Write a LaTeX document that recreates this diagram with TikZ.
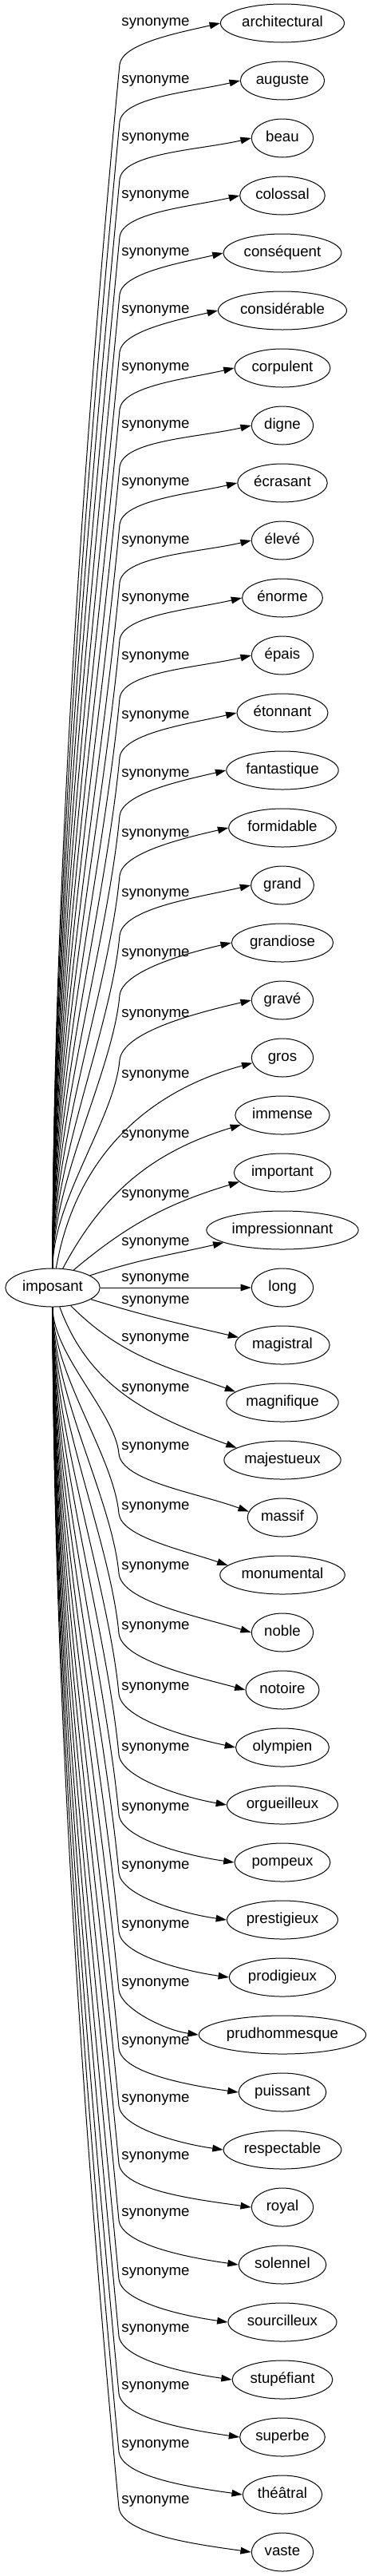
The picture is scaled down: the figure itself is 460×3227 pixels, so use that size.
\documentclass[tikz,border=0pt]{standalone}
\usepackage{fontspec}
\setmainfont{Liberation Sans}
\usetikzlibrary{arrows.meta, shapes.geometric}

\begin{document}
\begin{tikzpicture}[x=0.75pt, y=0.75pt, line width=0.75pt,
  font=\fontsize{14pt}{17pt}\selectfont,
  wordnode/.style={draw, ellipse, inner xsep=3pt, inner ysep=2pt, text height=10pt, text depth=3pt, minimum width=58pt, minimum height=36pt},
  synlabel/.style={inner sep=0pt},
  synedge/.style={-{Triangle[length=10pt, width=6.5pt]}}]
  \useasboundingbox (0,0) rectangle (460,-3227);

  % Centre word
  \node[wordnode] (imposant) at (66,-1613) {imposant};

  % --- Synonyms above ---
  \node[wordnode] (architectural) at (354,-29) {architectural};
  \node[synlabel] (s-architectural) at (195,-29) {synonyme};
  \draw[synedge] (imposant.north) .. controls (66,-1099) and (109.8,-500) .. ([shift={(-2,-52)}]s-architectural.west) to[out=84, in=193, out looseness=0.5] (architectural.west);

  \node[wordnode] (auguste) at (354,-101) {auguste};
  \node[synlabel] (s-auguste) at (195,-101) {synonyme};
  \draw[synedge] (imposant.north) .. controls (66,-1122) and (111.7,-552) .. ([shift={(-2,-52)}]s-auguste.west) to[out=84, in=193, out looseness=0.5] (auguste.west);

  \node[wordnode] (beau) at (354,-173) {beau};
  \node[synlabel] (s-beau) at (195,-173) {synonyme};
  \draw[synedge] (imposant.north) .. controls (66,-1146) and (113.7,-604) .. ([shift={(-2,-52)}]s-beau.west) to[out=84, in=193, out looseness=0.5] (beau.west);

  \node[wordnode] (colossal) at (354,-245) {colossal};
  \node[synlabel] (s-colossal) at (195,-245) {synonyme};
  \draw[synedge] (imposant.north) .. controls (66,-1169) and (115.6,-656) .. ([shift={(-2,-52)}]s-colossal.west) to[out=84, in=193, out looseness=0.5] (colossal.west);

  \node[wordnode] (consequent) at (354,-317) {conséquent};
  \node[synlabel] (s-consequent) at (195,-317) {synonyme};
  \draw[synedge] (imposant.north) .. controls (66,-1192) and (117.6,-708) .. ([shift={(-2,-52)}]s-consequent.west) to[out=84, in=193, out looseness=0.5] (consequent.west);

  \node[wordnode] (considerable) at (354,-389) {considérable};
  \node[synlabel] (s-considerable) at (195,-389) {synonyme};
  \draw[synedge] (imposant.north) .. controls (66,-1216) and (119.5,-760) .. ([shift={(-2,-52)}]s-considerable.west) to[out=84, in=193, out looseness=0.5] (considerable.west);

  \node[wordnode] (corpulent) at (354,-461) {corpulent};
  \node[synlabel] (s-corpulent) at (195,-461) {synonyme};
  \draw[synedge] (imposant.north) .. controls (66,-1239) and (121.4,-812) .. ([shift={(-2,-52)}]s-corpulent.west) to[out=84, in=193, out looseness=0.5] (corpulent.west);

  \node[wordnode] (digne) at (354,-533) {digne};
  \node[synlabel] (s-digne) at (195,-533) {synonyme};
  \draw[synedge] (imposant.north) .. controls (66,-1263) and (123.4,-864) .. ([shift={(-2,-52)}]s-digne.west) to[out=84, in=193, out looseness=0.5] (digne.west);

  \node[wordnode] (ecrasant) at (354,-605) {écrasant};
  \node[synlabel] (s-ecrasant) at (195,-605) {synonyme};
  \draw[synedge] (imposant.north) .. controls (66,-1286) and (125.3,-916) .. ([shift={(-2,-52)}]s-ecrasant.west) to[out=84, in=193, out looseness=0.5] (ecrasant.west);

  \node[wordnode] (eleve) at (354,-677) {élevé};
  \node[synlabel] (s-eleve) at (195,-678) {synonyme};
  \draw[synedge] (imposant.north) .. controls (66,-1310) and (127.3,-969) .. ([shift={(-2,-52)}]s-eleve.west) to[out=84, in=193, out looseness=0.5] (eleve.west);

  \node[wordnode] (enorme) at (354,-749) {énorme};
  \node[synlabel] (s-enorme) at (195,-750) {synonyme};
  \draw[synedge] (imposant.north) .. controls (66,-1333) and (129.2,-1021) .. ([shift={(-2,-52)}]s-enorme.west) to[out=84, in=193, out looseness=0.5] (enorme.west);

  \node[wordnode] (epais) at (354,-821) {épais};
  \node[synlabel] (s-epais) at (195,-823) {synonyme};
  \draw[synedge] (imposant.north) .. controls (66,-1357) and (131.2,-1074) .. ([shift={(-2,-52)}]s-epais.west) to[out=84, in=193, out looseness=0.5] (epais.west);

  \node[wordnode] (etonnant) at (354,-893) {étonnant};
  \node[synlabel] (s-etonnant) at (195,-897) {synonyme};
  \draw[synedge] (imposant.north) .. controls (66,-1381) and (133.2,-1127) .. ([shift={(-2,-52)}]s-etonnant.west) to[out=84, in=193, out looseness=0.5] (etonnant.west);

  \node[wordnode] (fantastique) at (354,-965) {fantastique};
  \node[synlabel] (s-fantastique) at (195,-970) {synonyme};
  \draw[synedge] (imposant.north) .. controls (66,-1405) and (135.2,-1180) .. ([shift={(-2,-52)}]s-fantastique.west) to[out=84, in=193, out looseness=0.5] (fantastique.west);

  \node[wordnode] (formidable) at (354,-1037) {formidable};
  \node[synlabel] (s-formidable) at (195,-1045) {synonyme};
  \draw[synedge] (imposant.north) .. controls (66,-1429) and (137.2,-1234) .. ([shift={(-2,-52)}]s-formidable.west) to[out=84, in=193, out looseness=0.5] (formidable.west);

  \node[wordnode] (grand) at (354,-1109) {grand};
  \node[synlabel] (s-grand) at (195,-1120) {synonyme};
  \draw[synedge] (imposant.north) .. controls (66,-1454) and (139.2,-1288) .. ([shift={(-2,-52)}]s-grand.west) to[out=84, in=193, out looseness=0.5] (grand.west);

  \node[wordnode] (grandiose) at (354,-1181) {grandiose};
  \node[synlabel] (s-grandiose) at (195,-1195) {synonyme};
  \draw[synedge] (imposant.north) .. controls (66,-1478) and (141.3,-1342) .. ([shift={(-2,-52)}]s-grandiose.west) to[out=84, in=193, out looseness=0.5] (grandiose.west);

  \node[wordnode] (grave) at (354,-1253) {gravé};
  \node[synlabel] (s-grave) at (195,-1271) {synonyme};
  \draw[synedge] (imposant.north) .. controls (66,-1504) and (143.5,-1401) .. ([shift={(-2,-57)}]s-grave.west) to[out=84, in=193, out looseness=0.5] (grave.west);

  \node[wordnode] (gros) at (354,-1325) {gros};
  \node[synlabel] (s-gros) at (195,-1347) {synonyme};
  \draw[synedge] (imposant.80) to[out=80, in=195] (gros.190);

  \node[wordnode] (immense) at (354,-1397) {immense};
  \node[synlabel] (s-immense) at (195,-1422) {synonyme};
  \draw[synedge] (imposant.62) to[out=62, in=197] (immense.193);

  \node[wordnode] (important) at (354,-1469) {important};
  \node[synlabel] (s-important) at (195,-1497) {synonyme};
  \draw[synedge] (imposant.40) to[out=40, in=197] (important.192);

  \node[wordnode] (impressionnant) at (354,-1541) {impressionnant};
  \node[synlabel] (s-impressionnant) at (195,-1557) {synonyme};
  \draw[synedge] (imposant.18) to[out=18, in=193] (impressionnant.192);

  % --- Middle row ---
  \node[wordnode] (long) at (354,-1613) {long};
  \node[synlabel] (s-long) at (195,-1602) {synonyme};
  \draw[synedge] (imposant.east) -- (long.west);

  % --- Synonyms below ---
  \node[wordnode] (magistral) at (354,-1685) {magistral};
  \node[synlabel] (s-magistral) at (195,-1630) {synonyme};
  \draw[synedge] (imposant.-17) to[out=-17, in=167] (magistral.170);

  \node[wordnode] (magnifique) at (354,-1757) {magnifique};
  \node[synlabel] (s-magnifique) at (195,-1677) {synonyme};
  \draw[synedge] (imposant.-45) to[out=-45, in=160] (magnifique.167);

  \node[wordnode] (majestueux) at (354,-1829) {majestueux};
  \node[synlabel] (s-majestueux) at (195,-1740) {synonyme};
  \draw[synedge] (imposant.-70) to[out=-70, in=160] (majestueux.165);

  \node[wordnode] (massif) at (354,-1901) {massif};
  \node[synlabel] (s-massif) at (195,-1813) {synonyme};
  \draw[synedge] (imposant.south) .. controls (66,-1697) and (144.5,-1770) .. ([shift={(-3,-8)}]s-massif.west) to[out=-84, in=160, out looseness=0.5] (massif.170);

  \node[wordnode] (monumental) at (354,-1973) {monumental};
  \node[synlabel] (s-monumental) at (195,-1888) {synonyme};
  \draw[synedge] (imposant.south) .. controls (66,-1721) and (142.5,-1824) .. ([shift={(-3,-8)}]s-monumental.west) to[out=-84, in=161, out looseness=0.5] (monumental.170);

  \node[wordnode] (noble) at (354,-2045) {noble};
  \node[synlabel] (s-noble) at (195,-1963) {synonyme};
  \draw[synedge] (imposant.south) .. controls (66,-1746) and (140.5,-1878) .. ([shift={(-3,-8)}]s-noble.west) to[out=-84, in=163, out looseness=0.5] (noble.west);

  \node[wordnode] (notoire) at (354,-2117) {notoire};
  \node[synlabel] (s-notoire) at (195,-2038) {synonyme};
  \draw[synedge] (imposant.south) .. controls (66,-1770) and (138.5,-1932) .. ([shift={(-3,-8)}]s-notoire.west) to[out=-84, in=165, out looseness=0.5] (notoire.west);

  \node[wordnode] (olympien) at (354,-2189) {olympien};
  \node[synlabel] (s-olympien) at (195,-2114) {synonyme};
  \draw[synedge] (imposant.south) .. controls (66,-1795) and (136.4,-1987) .. ([shift={(-3,-8)}]s-olympien.west) to[out=-84, in=168, out looseness=0.5] (olympien.west);

  \node[wordnode] (orgueilleux) at (354,-2261) {orgueilleux};
  \node[synlabel] (s-orgueilleux) at (195,-2190) {synonyme};
  \draw[synedge] (imposant.south) .. controls (66,-1819) and (134.4,-2042) .. ([shift={(-3,-8)}]s-orgueilleux.west) to[out=-84, in=170, out looseness=0.5] (orgueilleux.west);

  \node[wordnode] (pompeux) at (354,-2333) {pompeux};
  \node[synlabel] (s-pompeux) at (195,-2265) {synonyme};
  \draw[synedge] (imposant.south) .. controls (66,-1844) and (132.3,-2096) .. ([shift={(-3,-8)}]s-pompeux.west) to[out=-84, in=172, out looseness=0.5] (pompeux.west);

  \node[wordnode] (prestigieux) at (354,-2405) {prestigieux};
  \node[synlabel] (s-prestigieux) at (195,-2338) {synonyme};
  \draw[synedge] (imposant.south) .. controls (66,-1867) and (130.4,-2149) .. ([shift={(-3,-8)}]s-prestigieux.west) to[out=-84, in=172, out looseness=0.5] (prestigieux.west);

  \node[wordnode] (prodigieux) at (354,-2477) {prodigieux};
  \node[synlabel] (s-prodigieux) at (195,-2412) {synonyme};
  \draw[synedge] (imposant.south) .. controls (66,-1892) and (128.4,-2202) .. ([shift={(-3,-8)}]s-prodigieux.west) to[out=-84, in=172, out looseness=0.5] (prodigieux.west);

  \node[wordnode] (prudhommesque) at (354,-2549) {prudhommesque};
  \node[synlabel] (s-prudhommesque) at (195,-2485) {synonyme};
  \draw[synedge] (imposant.south) .. controls (66,-1915) and (126.4,-2255) .. ([shift={(-3,-8)}]s-prudhommesque.west) to[out=-84, in=172, out looseness=0.5] (prudhommesque.west);

  \node[wordnode] (puissant) at (354,-2621) {puissant};
  \node[synlabel] (s-puissant) at (195,-2558) {synonyme};
  \draw[synedge] (imposant.south) .. controls (66,-1939) and (124.4,-2308) .. ([shift={(-3,-8)}]s-puissant.west) to[out=-84, in=172, out looseness=0.5] (puissant.west);

  \node[wordnode] (respectable) at (354,-2693) {respectable};
  \node[synlabel] (s-respectable) at (195,-2630) {synonyme};
  \draw[synedge] (imposant.south) .. controls (66,-1962) and (122.5,-2360) .. ([shift={(-3,-8)}]s-respectable.west) to[out=-84, in=172, out looseness=0.5] (respectable.west);

  \node[wordnode] (royal) at (354,-2765) {royal};
  \node[synlabel] (s-royal) at (195,-2702) {synonyme};
  \draw[synedge] (imposant.south) .. controls (66,-1986) and (120.5,-2412) .. ([shift={(-3,-8)}]s-royal.west) to[out=-84, in=172, out looseness=0.5] (royal.west);

  \node[wordnode] (solennel) at (354,-2837) {solennel};
  \node[synlabel] (s-solennel) at (195,-2773) {synonyme};
  \draw[synedge] (imposant.south) .. controls (66,-2009) and (118.6,-2463) .. ([shift={(-3,-8)}]s-solennel.west) to[out=-84, in=172, out looseness=0.5] (solennel.west);

  \node[wordnode] (sourcilleux) at (354,-2909) {sourcilleux};
  \node[synlabel] (s-sourcilleux) at (195,-2847) {synonyme};
  \draw[synedge] (imposant.south) .. controls (66,-2033) and (116.6,-2516) .. ([shift={(-3,-8)}]s-sourcilleux.west) to[out=-84, in=172, out looseness=0.5] (sourcilleux.west);

  \node[wordnode] (stupefiant) at (354,-2981) {stupéfiant};
  \node[synlabel] (s-stupefiant) at (195,-2918) {synonyme};
  \draw[synedge] (imposant.south) .. controls (66,-2056) and (114.7,-2568) .. ([shift={(-3,-8)}]s-stupefiant.west) to[out=-84, in=172, out looseness=0.5] (stupefiant.west);

  \node[wordnode] (superbe) at (354,-3053) {superbe};
  \node[synlabel] (s-superbe) at (195,-2990) {synonyme};
  \draw[synedge] (imposant.south) .. controls (66,-2079) and (112.8,-2620) .. ([shift={(-3,-8)}]s-superbe.west) to[out=-84, in=172, out looseness=0.5] (superbe.west);

  \node[wordnode] (theatral) at (354,-3125) {théâtral};
  \node[synlabel] (s-theatral) at (195,-3063) {synonyme};
  \draw[synedge] (imposant.south) .. controls (66,-2103) and (110.8,-2672) .. ([shift={(-3,-8)}]s-theatral.west) to[out=-84, in=172, out looseness=0.5] (theatral.west);

  \node[wordnode] (vaste) at (354,-3197) {vaste};
  \node[synlabel] (s-vaste) at (195,-3133) {synonyme};
  \draw[synedge] (imposant.south) .. controls (66,-2126) and (108.9,-2723) .. ([shift={(-3,-8)}]s-vaste.west) to[out=-84, in=172, out looseness=0.5] (vaste.west);
\end{tikzpicture}
\end{document}
